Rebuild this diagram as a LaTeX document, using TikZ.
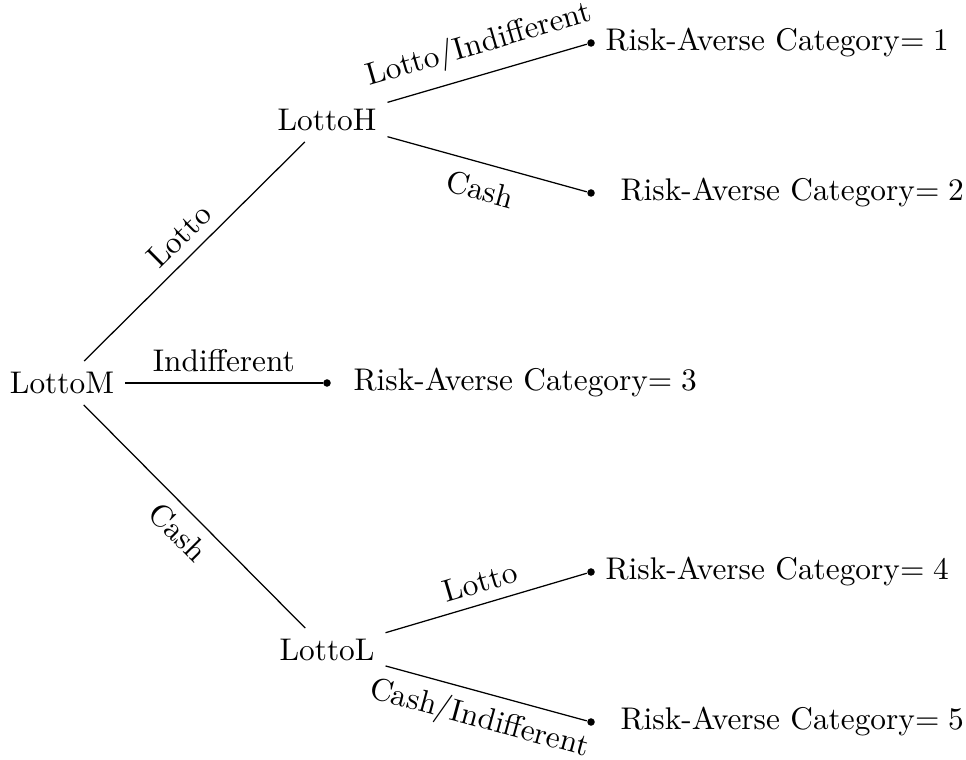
\documentclass[tikz,border=0pt]{standalone}
\begin{document}
\begin{tikzpicture}[x=0.319pt,y=-0.319pt,
  choice/.style={inner sep=3.33pt},
  leafdot/.style={circle,fill=black,inner sep=0pt,minimum size=2.4pt},
  leaftext/.style={anchor=west,inner sep=0pt},
  lab/.style={midway,sloped},
  branch/.style={draw=black,line width=0.4pt}]
\useasboundingbox (0,0) rectangle (966,760);
\node[choice] (M) at (62,383) {LottoM};
\node[choice] (H) at (327,120) {LottoH};
\node[choice] (L) at (327,650) {LottoL};
\node[leafdot] (d1) at (591,43) {};
\node[leafdot] (d2) at (591,193) {};
\node[leafdot] (d3) at (327,383) {};
\node[leafdot] (d4) at (591,572) {};
\node[leafdot] (d5) at (591,722) {};
\node[leaftext] (t1) at (605,43) {Risk-Averse Category$=1$};
\node[leaftext] (t2) at (620,193) {Risk-Averse Category$=2$};
\node[leaftext] (t3) at (353,383) {Risk-Averse Category$=3$};
\node[leaftext] (t4) at (605,572) {Risk-Averse Category$=4$};
\node[leaftext] (t5) at (620,722) {Risk-Averse Category$=5$};
\draw[branch] (M) -- node[lab,above] {Lotto} (H);
\draw[branch] (M) -- node[midway,above] {Indifferent} (d3);
\draw[branch] (M) -- node[lab,below] {Cash} (L);
\draw[branch] (H) -- node[lab,above,inner ysep=4pt] {Lotto/Indifferent} (d1);
\draw[branch] (H) -- node[lab,below,inner ysep=4.5pt] {Cash} (d2);
\draw[branch] (L) -- node[lab,above] {Lotto} (d4);
\draw[branch] (L) -- node[lab,below] {Cash/Indifferent} (d5);
\end{tikzpicture}
\end{document}
